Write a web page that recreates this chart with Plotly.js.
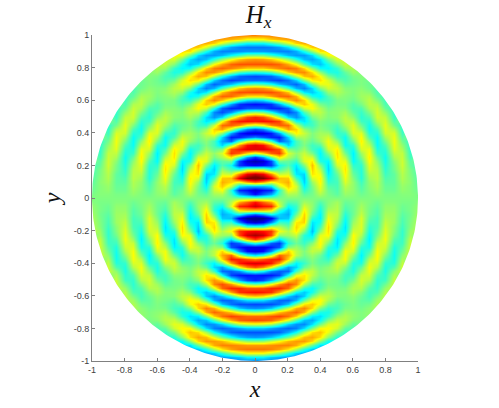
<!DOCTYPE html>
<html>
<head>
<meta charset="utf-8">
<script src="https://cdn.plot.ly/plotly-3.0.1.min.js"></script>
<style>html,body{margin:0;padding:0;background:#fff}</style>
</head>
<body>
<div id="graf" style="width:499px;height:408px"></div>
<script>
// sample positions of the first quadrant
const xSteps = [0,.05,.1,.15,.2,.25,.3,.35,.4,.45,.5,.55,.6,.65,.7,.75,.8,.85,.9,.95,1];
const ySteps = [0,.025,.05,.075,.1,.125,.15,.175,.2,.225,.25,.275,.3,.325,.35,.375,.4,.425,.45,.475,.5,
  .525,.55,.575,.6,.625,.65,.675,.7,.725,.75,.775,.8,.825,.85,.875,.9,.925,.95,.975,1];
// Hx, percent of colour range. One list per x, going up in y, stops just past the rim
const hxCols = [
  [0,-62,-72,-32,45,92,74,5,-65,-78,-55,15,68,68,25,-42,-70,-50,12,60,58,3,-50,-62,-30,25,52,40,-5,-46,-52,-16,30,50,38,-2,-38,-44,-20,22,42],
  [0,-48,-62,-32,35,85,66,5,-62,-72,-38,28,68,62,15,-49,-68,-41,20,62,52,-2,-51,-60,-26,26,51,38,-9,-46,-50,-14,30,50,36,-3,-38,-44,-20,22,42],
  [0,-36,-58,-25,18,68,42,-15,-55,-52,-5,48,60,40,-9,-58,-60,-20,40,60,35,-19,-58,-56,-12,36,51,30,-17,-50,-47,-8,36,50,30,-12,-40,-42,-12,30,42],
  [0,-9,-15,12,28,32,12,-10,-20,-3,25,55,50,3,-47,-60,-37,13,48,53,9,-39,-58,-37,10,46,45,12,-31,-53,-35,8,42,47,19,-21,-42,-37,-2,34,42],
  [0,8,20,30,35,30,15,2,-8,-5,8,15,0,-28,-36,-28,2,37,46,20,-27,-51,-47,-9,30,47,31,-11,-41,-45,-16,28,47,35,3,-33,-42,-25,14,37,40],
  [0,6,12,14,4,-10,-24,-28,-24,-12,-2,3,-5,-10,-10,5,23,28,12,-18,-39,-41,-16,20,41,34,2,-34,-47,-29,9,39,43,20,-16,-38,-35,-7,29,39,39],
  [0,-6,-14,-22,-28,-30,-28,-13,0,15,16,12,5,0,2,7,12,4,-13,-25,-26,-9,13,30,29,5,-24,-42,-33,0,31,41,27,-6,-32,-38,-17,15,35,35],
  [0,-2,-3,-1,4,14,25,29,32,24,13,-1,-10,-11,-5,-1,0,-5,-11,-10,-2,10,21,18,2,-17,-30,-27,-3,23,35,26,2,-26,-36,-27,4,30,35],
  [0,8,14,18,22,23,18,9,-1,-16,-21,-22,-18,-7,3,7,6,2,0,1,6,10,8,-1,-13,-22,-18,0,17,26,21,3,-20,-31,-26,-2,26,32,32],
  [0,-1,-3,-7,-13,-18,-23,-27,-26,-22,-10,1,13,18,19,13,5,-2,-4,-2,0,1,-2,-7,-10,-7,3,13,18,14,0,-15,-22,-18,-2,20,26,26],
  [0,-6,-8,-9,-10,-8,-4,4,14,20,25,26,23,14,3,-8,-13,-12,-8,-2,2,2,1,-1,-1,4,8,10,6,-3,-12,-17,-13,1,15,20,20],
  [0,4,7,10,15,19,22,25,23,17,8,-2,-10,-19,-20,-19,-11,-1,6,10,10,6,1,-1,0,1,3,1,-4,-8,-9,-5,5,12,13],
  [0,2,3,3,3,0,-4,-9,-14,-21,-22,-23,-19,-13,-2,7,15,17,16,10,2,-5,-8,-7,-3,-1,0,0,-2,-3,-1,5,8,8],
  [0,-3,-6,-8,-11,-15,-15,-15,-13,-8,-1,5,14,19,23,21,16,5,-3,-11,-14,-12,-8,-1,3,5,4,2,0,0,1,1],
  [0,0,1,2,3,6,9,14,17,21,23,21,18,10,2,-8,-15,-19,-18,-14,-8,0,7,10,10,7,2,-2,-3,-3],
  [0,3,5,7,8,10,10,9,6,2,-4,-12,-16,-20,-21,-20,-15,-9,0,8,13,14,12,8,1,-5,-8,-8],
  [0,-1,-3,-4,-6,-8,-11,-14,-16,-18,-19,-16,-13,-8,-1,6,13,16,17,14,11,3,-4,-9,-10,-10],
  [0,-1,-3,-4,-5,-5,-5,-2,-1,2,7,11,16,18,19,18,15,8,-2,-8,-12,-13,-13],
  [0,1,3,4,6,8,9,11,13,13,12,11,7,3,-2,-7,-11,-13,-13],
  [0,1,1,1,2,1,0,-1,-4,-6,-10,-12,-13,-13,-13],
  [0,-1,-3,-4,-6,-7,-8,-9,-10]
];
const tickVals = [-1,-.8,-.6,-.4,-.2,0,.2,.4,.6,.8,1];
const tickLabels = ['-1','-0.8','-0.6','-0.4','-0.2','0','0.2','0.4','0.6','0.8','1'];

const jet = [[0,'#00008f'],[.125,'#0000ff'],[.375,'#00ffff'],[.625,'#ffff00'],[.875,'#ff0000'],[1,'#800000']];

// even in x, odd in y, so the quadrant gives the whole square
const fullX = xSteps.slice(1).reverse().map(v => -v).concat(xSteps);
const fullY = ySteps.slice(1).reverse().map(v => -v).concat(ySteps);
const hxGrid = fullY.map(y => fullX.map(x => {
    const col = hxCols[xSteps.indexOf(Math.abs(x))];
    const val = col[ySteps.indexOf(Math.abs(y))];
    return (y < 0 ? -1 : 1) * (val === undefined ? 0 : val);
}));

// white surround so the rim of the disk stays round
const maskX = [], maskY = [];
for (let i = 0; i <= 360; i++) {
    maskX.push(-Math.cos(i * Math.PI / 180));
    maskY.push(Math.sin(i * Math.PI / 180));
}
maskX.push(-1.02, -1.02, 1.02, 1.02, -1.02, -1.02);
maskY.push(0, -1.02, -1.02, 1.02, 1.02, 0);

const datasets = [{
    type: 'heatmap',
    x: fullX,
    y: fullY,
    z: hxGrid,
    zmin: -85,
    zmax: 85,
    zsmooth: 'best',
    colorscale: jet,
    showscale: false,
    hoverinfo: 'skip',
}, {
    type: 'scatter',
    x: maskX,
    y: maskY,
    mode: 'lines',
    line: {width: 0},
    fill: 'toself',
    fillcolor: '#fff',
    hoverinfo: 'skip',
}];

const axisBase = {
    range: [-1, 1],
    tickmode: 'array',
    tickvals: tickVals,
    ticktext: tickLabels,
    ticks: 'inside',
    ticklen: 3,
    tickwidth: 1,
    tickcolor: '#808080',
    showline: true,
    linecolor: '#808080',
    linewidth: 1,
    showgrid: false,
    zeroline: false,
    tickfont: {family: 'Liberation Sans', size: 9, color: '#404040'},
    automargin: false,
};

const layout = {
    width: 499,
    height: 408,
    margin: {l: 92, r: 81, t: 35, b: 47},
    paper_bgcolor: '#fff',
    plot_bgcolor: '#fff',
    showlegend: false,
    title: {
        text: '<i>H</i><sub><i>x</i></sub>',
        font: {family: 'Liberation Serif', size: 25, color: '#111'},
        x: 255 / 499, xanchor: 'center', xref: 'paper',
        y: 1 - 14 / 408, yanchor: 'middle',
    },
    xaxis: {...axisBase, title: {text: '<i>x</i>', font: {family: 'Liberation Serif', size: 24, color: '#111'}, standoff: 6}},
    yaxis: {...axisBase, title: {text: '<i>y</i>', font: {family: 'Liberation Serif', size: 24, color: '#111'}, standoff: 6}},
};

Plotly.newPlot('graf', datasets, layout, {displayModeBar: false});
</script>
</body>
</html>
